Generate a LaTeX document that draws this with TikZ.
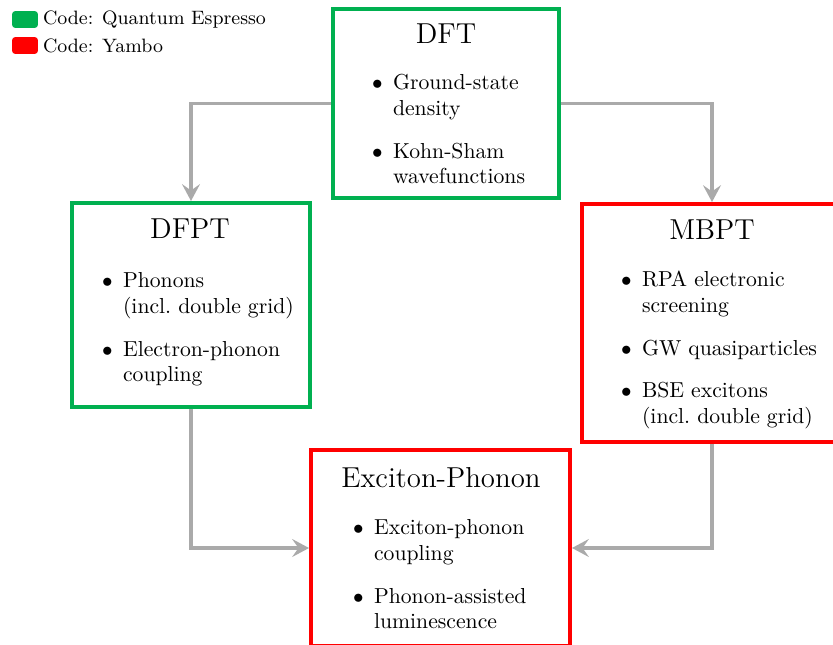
\documentclass[tikz,border=0pt]{standalone}
\usepackage{xcolor}
\usetikzlibrary{arrows.meta}
\definecolor{qegreen}{RGB}{0,176,80}
\definecolor{yambored}{RGB}{255,0,0}
\definecolor{flowgray}{RGB}{170,170,170}
\renewcommand{\labelitemi}{$\bullet$}
\newcommand{\ttl}[1]{\fontsize{13.7}{16}\selectfont #1}
\newcommand{\blist}[1]{\fontsize{10.3}{12.2}\selectfont\begin{itemize}#1\end{itemize}}

\begin{document}
\begin{tikzpicture}[x=0.475pt,y=-0.475pt,
  codebox/.style={rectangle,draw=#1,line width=1.9pt,inner sep=0pt},
  keybox/.style={rectangle,rounded corners=1.5pt,fill=#1,minimum width=12.3pt,
                 minimum height=8pt,inner sep=0pt},
  items/.style={text width=4.5cm,anchor=north west,inner sep=0pt,align=left},
  flow/.style={draw=flowgray,line width=1.6pt,
               -{Stealth[length=8pt,width=8.5pt,inset=3pt]}}]
 \useasboundingbox (0,0) rectangle (833,644);

 % legend
 \node[keybox=qegreen]  (keyqe) at (25,19.5) {};
 \node[keybox=yambored] (keyyb) at (25,45.5) {};
 \node[right=1pt,inner sep=1pt,font=\fontsize{9.2}{11}\selectfont] (labqe) at (keyqe.east) {Code: Quantum Espresso};
 \node[right=1pt,inner sep=1pt,font=\fontsize{9.2}{11}\selectfont] (labyb) at (keyyb.east) {Code: Yambo};

 % boxes
 \node[codebox=qegreen,minimum width=107.4pt,minimum height=89.8pt]  (dft)  at (446,103.5) {};
 \node[codebox=qegreen,minimum width=113pt,minimum height=96.9pt]    (dfpt) at (191,305) {};
 \node[codebox=yambored,minimum width=123.5pt,minimum height=113pt]  (mbpt) at (712,323) {};
 \node[codebox=yambored,minimum width=123pt,minimum height=93.1pt]   (exph) at (440.5,548) {};

 % titles
 \node (dftttl)  at (446,34)    {\ttl{DFT}};
 \node (dfptttl) at (190,229)   {\ttl{DFPT}};
 \node (mbptttl) at (712,230)   {\ttl{MBPT}};
 \node (exphttl) at (441,478)   {\ttl{Exciton-Phonon}};

 % contents
 \node[items] (dftlist) at (340,47)
   {\blist{\item Ground-state\\density \item Kohn-Sham\\wavefunctions}};
 \node[items] (dfptlist) at (70,245)
   {\blist{\item Phonons\\(incl.\ double grid) \item Electron-phonon\\coupling}};
 \node[items] (mbptlist) at (589,244)
   {\blist{\item RPA electronic\\screening \item GW quasiparticles
           \item BSE excitons\\(incl.\ double grid)}};
 \node[items] (exphlist) at (321,492)
   {\blist{\item Exciton-phonon\\coupling \item Phonon-assisted\\luminescence}};

 % connectors
 \draw[flow] (dft.west)   -| (dfpt.north);
 \draw[flow] (dft.east)   -| (mbpt.north);
 \draw[flow] (dfpt.south) |- (exph.west);
 \draw[flow] (mbpt.south) |- (exph.east);

\end{tikzpicture}
\end{document}
